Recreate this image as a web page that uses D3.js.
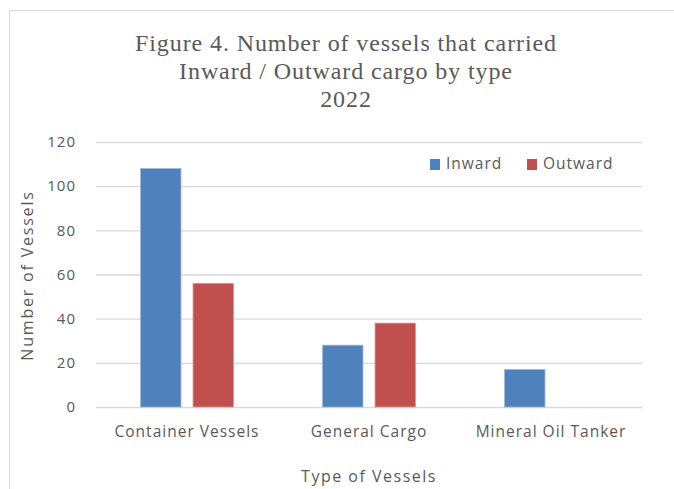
<!DOCTYPE html>
<html>
<head>
<meta charset="utf-8">
<script src="https://cdn.jsdelivr.net/npm/d3@7"></script>
<style>
  html, body { margin: 0; padding: 0; background: #fff; }
  svg { display: block; }
  text { fill: #595959; }
</style>
</head>
<body>
<svg id="chart" width="674" height="489"></svg>
<script>
const categories = ["Container Vessels", "General Cargo", "Mineral Oil Tanker"];
const seriesNames = ["Inward", "Outward"];
const inward = [108, 28, 17];
const outward = [56, 38, 0];
const yTicks = [0, 20, 40, 60, 80, 100, 120];
const titleLines = ["Figure 4. Number of vessels that carried", "Inward / Outward cargo by type", "2022"];
const xAxisTitle = "Type of Vessels";
const yAxisTitle = "Number of Vessels";
const colors = ["#4F81BD", "#C0504D"];

const SANS = "'Open Sans', Lato, sans-serif";
const svg = d3.select("#chart");
const W = 674, H = 489;
const margin = { left: 96, right: 32, top: 142, bottom: 82 };
const plotW = W - margin.left - margin.right;
const plotH = H - margin.top - margin.bottom;

// outer chart border (top and left visible)
svg.append("line").attr("x1", 9.5).attr("x2", W).attr("y1", 10.5).attr("y2", 10.5)
  .attr("stroke", "#d9d9d9").attr("stroke-width", 1);
svg.append("line").attr("x1", 9.5).attr("x2", 9.5).attr("y1", 10.5).attr("y2", H)
  .attr("stroke", "#d9d9d9").attr("stroke-width", 1);

const g = svg.append("g").attr("transform", `translate(${margin.left},${margin.top})`);

const x0 = d3.scaleBand().domain(categories).range([0, plotW]).paddingInner(0.489).paddingOuter(0.2445);
const x1 = d3.scaleBand().domain(seriesNames).range([0, x0.bandwidth()]).paddingInner(0.229);
const y = d3.scaleLinear().domain([0, 120]).range([plotH, 0]);

// gridlines + y tick labels
const yAxis = d3.axisLeft(y).tickValues(yTicks).tickSize(-plotW).tickPadding(20).tickFormat(d3.format("d"));
const ya = g.append("g").call(yAxis);
ya.select(".domain").remove();
ya.selectAll(".tick line").attr("stroke", "#d9d9d9").attr("stroke-width", 1.3);
ya.selectAll(".tick text").attr("fill", "#595959").style("font-family", SANS).style("font-size", "15px")
  .style("letter-spacing", "1px");

// bars
const data = categories.map((c, i) => ({ cat: c, values: [inward[i], outward[i]] }));
const groups = g.selectAll(".grp").data(data).join("g")
  .attr("class", "grp")
  .attr("transform", d => `translate(${x0(d.cat)},0)`);
groups.selectAll("rect").data(d => d.values.map((v, j) => ({ key: seriesNames[j], v, j })))
  .join("rect")
  .filter(d => d.v > 0)
  .attr("x", d => x1(d.key))
  .attr("width", x1.bandwidth())
  .attr("y", d => y(d.v))
  .attr("height", d => y(0) - y(d.v))
  .attr("fill", d => colors[d.j])
  .attr("stroke", d => d.j === 0 ? "#9db8dc" : "#dc9c9a")
  .attr("stroke-width", 0.8);

// x axis labels
const xAxis = d3.axisBottom(x0).tickSize(0).tickPadding(19);
const xa = g.append("g").attr("transform", `translate(0,${plotH})`).call(xAxis);
xa.select(".domain").remove();
xa.selectAll(".tick text").attr("fill", "#595959").style("font-family", SANS).style("font-size", "15.5px")
  .style("letter-spacing", "1px");

// axis titles
svg.append("text").attr("x", margin.left + plotW / 2).attr("y", 482)
  .attr("text-anchor", "middle")
  .style("font-family", SANS).style("font-size", "16px").style("letter-spacing", "1.5px")
  .text(xAxisTitle);
svg.append("text").attr("transform", `translate(33,${margin.top + plotH / 2 + 1}) rotate(-90)`)
  .attr("text-anchor", "middle")
  .style("font-family", SANS).style("font-size", "16px").style("letter-spacing", "1.8px")
  .text(yAxisTitle);

// title
const title = svg.append("text").attr("text-anchor", "middle")
  .style("font-family", "'Liberation Serif', 'DejaVu Serif', serif").style("font-size", "24px")
  .style("letter-spacing", "0.9px");
title.selectAll("tspan").data(titleLines).join("tspan")
  .attr("x", 346).attr("y", (d, i) => 51 + i * 28).text(d => d);

// legend
const legend = svg.append("g").attr("transform", "translate(430,158)");
const legendX = [0, 97];
seriesNames.forEach((s, i) => {
  const lg = legend.append("g").attr("transform", `translate(${legendX[i]},0)`);
  lg.append("rect").attr("width", 10).attr("height", 11).attr("y", 1).attr("fill", colors[i]);
  lg.append("text").attr("x", 16).attr("y", 11)
    .style("font-family", SANS).style("font-size", "15.5px").style("letter-spacing", "1px").text(s);
});
</script>
</body>
</html>
